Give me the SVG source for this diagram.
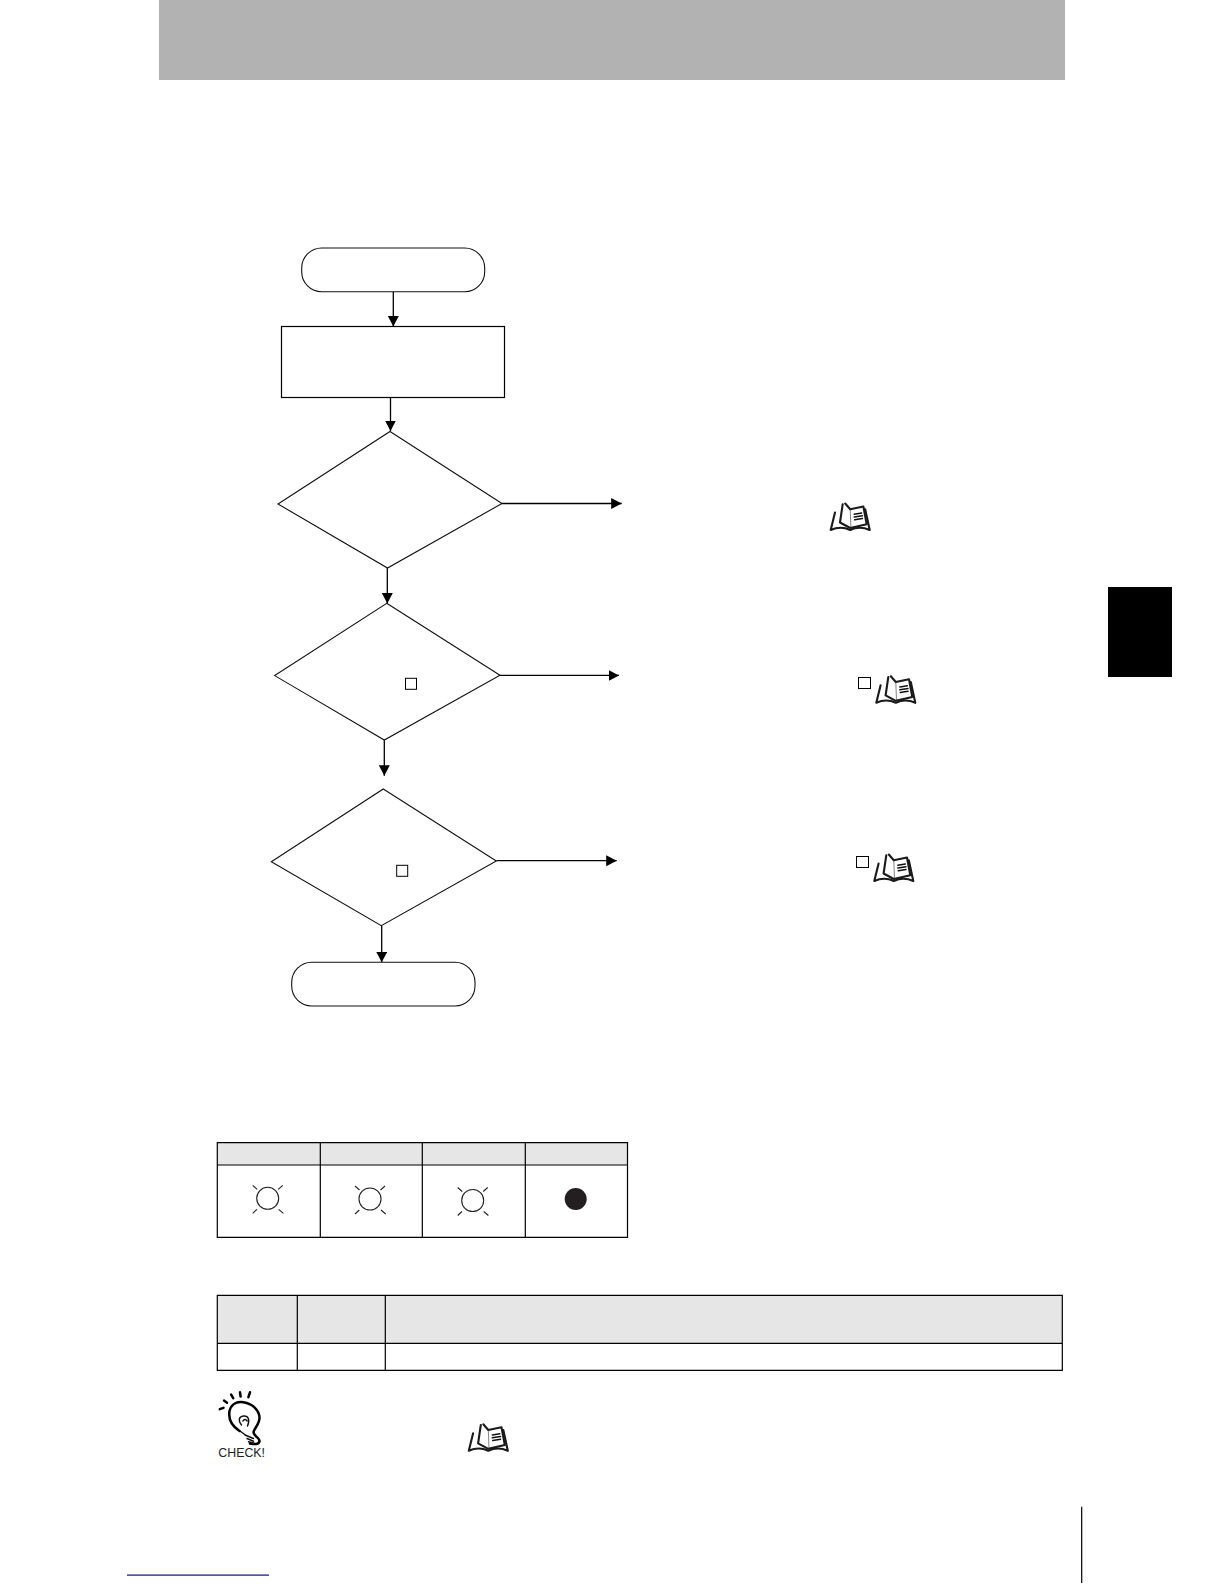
<svg xmlns="http://www.w3.org/2000/svg" width="1224" height="1584" viewBox="0 0 1224 1584">
<style>
.n{fill:#fff;stroke:#111;stroke-width:1.1}
.b{fill:#fff;stroke:#000;stroke-width:1.2}
.c{fill:none;stroke:#000;stroke-width:1.3}
.t{fill:none;stroke:#000;stroke-width:1.2}
.h{fill:#e6e6e6}
.sq{fill:#fff;stroke:#000;stroke-width:1}
.sun{fill:none;stroke:#222;stroke-width:1.1}
.ic{fill:none;stroke:#1a1a1a;stroke-width:2.1;stroke-linecap:round;stroke-linejoin:round}
.th{fill:none;stroke:#333;stroke-width:.6}
.k{fill:none;stroke:#000;stroke-width:2.5;stroke-linecap:round;stroke-linejoin:round}
.k2{fill:none;stroke:#111;stroke-width:1.5;stroke-linecap:round;stroke-linejoin:round}
</style>
<defs>
<marker id="ah" markerUnits="userSpaceOnUse" markerWidth="12" markerHeight="12" refX="10.5" refY="5.75" orient="auto"><path d="M0 0.25L10.5 5.75L0 11.25Z" fill="#000"/></marker>
<g id="book">
<path class="ic" d="M4.3 9L0 26.5Q10 22 19.5 26.5Q29 22 39 26.5L34.5 5.7"/>
<path class="ic" d="M12 .7L9.3 19L19.5 24.5L36 20.7L32.7 3L19.5 5.7L14.5 0"/>
<path class="th" d="M19.5 5.7L20.2 24"/>
<path class="k2" d="M23.5 10.7L31 9.5M23.5 13.5L31.7 12.3M24 16.3L31.7 15"/>
</g>
<g id="sun">
<circle class="sun" r="11"/>
<path class="sun" d="M-15-13L-10.5-9M15-13L10.5-9M-15 15L-10.7 11M15.7 15L11 11"/>
</g>
</defs>

<g id="header-band"><rect x="159" y="0" width="906" height="80" fill="#b2b2b2"/></g>
<g id="chapter-tab"><rect x="1108" y="587" width="64" height="90" fill="#000"/></g>

<g id="connectors">
<path class="c" marker-end="url(#ah)" d="M393.3 291.7V326.5"/>
<path class="c" marker-end="url(#ah)" d="M390.5 397V431"/>
<path class="c" marker-end="url(#ah)" d="M387.3 568V603.5"/>
<path class="c" marker-end="url(#ah)" d="M384.3 740V775.7"/>
<path class="c" marker-end="url(#ah)" d="M381.7 926V962.3"/>
<path class="c" marker-end="url(#ah)" d="M502 503.5H621.7"/>
<path class="c" marker-end="url(#ah)" d="M500 675.4H619"/>
<path class="c" marker-end="url(#ah)" d="M496.5 860.7H616.7"/>
</g>

<g id="start"><rect class="n" x="301.7" y="248" width="183" height="43.7" rx="20" ry="20"/></g>
<g id="step"><rect class="b" x="281.5" y="326.5" width="223" height="71"/></g>
<g id="decision-1"><path class="n" d="M390 431.5L502 503.5L387.5 568L278 504Z"/></g>
<g id="decision-2"><path class="n" d="M386.7 603.3L500 675.2L384.3 740L274.7 675.6Z"/><rect class="sq" x="405.5" y="678.3" width="11" height="11"/></g>
<g id="decision-3"><path class="n" d="M383.3 789L496.3 861L381.3 925.7L271.3 861.7Z"/><rect class="sq" x="396.7" y="865.3" width="11" height="11"/></g>
<g id="end"><rect class="n" x="291.7" y="962.3" width="183.3" height="43.7" rx="20" ry="20"/></g>

<g id="ref-1"><use href="#book" x="830.7" y="503.5"/></g>
<g id="ref-2"><rect class="sq" x="858.5" y="677.5" width="12" height="11"/><use href="#book" x="876.3" y="676.3"/></g>
<g id="ref-3"><rect class="sq" x="856.5" y="856.5" width="12" height="11"/><use href="#book" x="874.3" y="854.5"/></g>

<g id="table-indicators">
<rect class="h" x="217.3" y="1142.7" width="410.2" height="22.3"/>
<path class="t" d="M217.3 1142.7H627.5V1237.3H217.3ZM217.3 1165H627.5M320.3 1142.7V1237.3M422.3 1142.7V1237.3M525.3 1142.7V1237.3"/>
<use href="#sun" x="267.7" y="1198.3"/>
<use href="#sun" x="370" y="1199"/>
<use href="#sun" x="472.7" y="1200.5"/>
<circle cx="575.7" cy="1199" r="11" fill="#231f20"/>
</g>

<g id="table-spec">
<rect class="h" x="217.3" y="1295.3" width="845" height="48"/>
<path class="t" d="M217.3 1295.3H1062.3V1370.3H217.3ZM217.3 1343.3H1062.3M297.3 1295.3V1370.3M385.3 1295.3V1370.3"/>
</g>

<g id="check-icon">
<path class="k" d="M219.8 1409.2L223.5 1407.8M224 1400.6L227 1402.7M231.1 1394.6L233.2 1398.2M240 1392.3L240.6 1396.6M250 1392.3L248.4 1397.2"/>
<path class="k" d="M239.5 1431C232 1426 228 1420 229.5 1411C231.5 1403 238 1401.5 243.5 1402.3C252 1403.5 259.5 1410 259.5 1418C259.5 1424 254.5 1428 253.5 1432C253.5 1436 259.5 1437.5 259.5 1441C259.5 1444.5 254 1444.5 250 1443.5"/>
<path class="k2" d="M241.5 1425C238 1421 238.5 1416.5 243.5 1416C248.5 1415.5 250 1420 247.5 1426M243 1421C244 1419 246 1419 247 1421M240 1431L245.5 1435M245 1435L253.5 1438.5M247 1438.5L253.5 1441.2M248.5 1441.8L254 1443.3"/>
<text x="218.3" y="1456.7" font-family="'Liberation Sans',Arial,sans-serif" font-size="12.4" fill="#222" textLength="46.7" lengthAdjust="spacingAndGlyphs">CHECK!</text>
</g>
<g id="ref-4"><use href="#book" x="468.8" y="1424.3"/></g>

<g id="page-rule"><path d="M1081.7 1506.7V1583" stroke="#000" stroke-width="1.2" fill="none"/></g>
<g id="link-underline"><rect x="127" y="1574.5" width="142" height="1.2" fill="#0a0a96"/></g>
</svg>
